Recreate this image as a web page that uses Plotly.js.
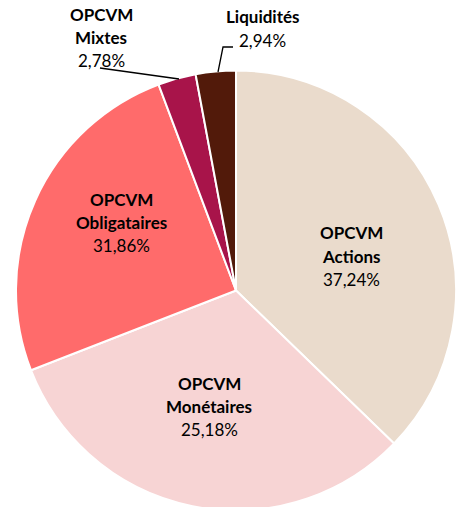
<!DOCTYPE html>
<html>
<head>
<meta charset="utf-8">
<script src="https://cdn.plot.ly/plotly-3.0.1.min.js"></script>
<style>
html,body{margin:0;padding:0;overflow:hidden;background:#fff;}
#chart{width:456px;height:520px;}
</style>
</head>
<body>
<div id="chart"></div>
<script>
// Data
const categories = ["OPCVM Actions", "OPCVM Monétaires", "OPCVM Obligataires", "OPCVM Mixtes", "Liquidités"];
const nameLines = [["OPCVM", "Actions"], ["OPCVM", "Monétaires"], ["OPCVM", "Obligataires"], ["OPCVM", "Mixtes"], ["Liquidités"]];
// slice sizes as drawn in the reference picture
const sliceValues = [37.24, 31.86, 25.18, 2.78, 2.94];
// percentages as printed in the reference labels
const printedPercents = ["37,24%", "25,18%", "31,86%", "2,78%", "2,94%"];
const colors = ["#EADBCC", "#F7D4D4", "#FF6B6B", "#A8144A", "#521A0A"];

// Layout (styles / positions)
const W = 456, H = 520;
const px = x => x / W;
const py = y => 1 - y / H;
// label anchor: center x, first-line y (pixels)
const labelPos = [[351, 233], [209, 383], [121, 199], [101, 14], [262, 17]];
const lineGap = 23.3;
const fontFam = "Lato, 'Open Sans', sans-serif";

const annotations = [];
categories.forEach((c, i) => {
  const lines = nameLines[i].map(t => ({t: t, bold: true})).concat([{t: printedPercents[i], bold: false}]);
  lines.forEach((ln, j) => {
    annotations.push({
      xref: 'paper', yref: 'paper',
      x: px(labelPos[i][0]), y: py(labelPos[i][1] + j * lineGap),
      xanchor: 'center', yanchor: 'middle',
      showarrow: false,
      text: ln.bold ? '<b>' + ln.t + '</b>' : ln.t,
      font: {family: fontFam, size: 17, color: '#000'}
    });
  });
});

const shapes = [
  {type: 'path', xref: 'paper', yref: 'paper',
   path: `M ${px(100)} ${py(68)} L ${px(179)} ${py(79)}`,
   line: {color: '#000', width: 1.3}},
  {type: 'path', xref: 'paper', yref: 'paper',
   path: `M ${px(218)} ${py(72)} L ${px(223)} ${py(47)} L ${px(233)} ${py(47)}`,
   line: {color: '#000', width: 1.3}}
];

const trace = {
  type: 'pie',
  labels: categories,
  values: sliceValues,
  sort: false,
  direction: 'clockwise',
  rotation: 0,
  textinfo: 'none',
  hoverinfo: 'label',
  marker: {colors: colors, line: {color: '#ffffff', width: 2}},
  domain: {x: [16 / W, 457 / W], y: [1 - 511 / H, 1 - 70 / H]},
  showlegend: false
};

const layout = {
  width: W, height: H,
  margin: {l: 0, r: 0, t: 0, b: 0},
  paper_bgcolor: '#fff',
  showlegend: false,
  annotations: annotations,
  shapes: shapes
};

Plotly.newPlot('chart', [trace], layout, {displayModeBar: false, staticPlot: true});
</script>
</body>
</html>
